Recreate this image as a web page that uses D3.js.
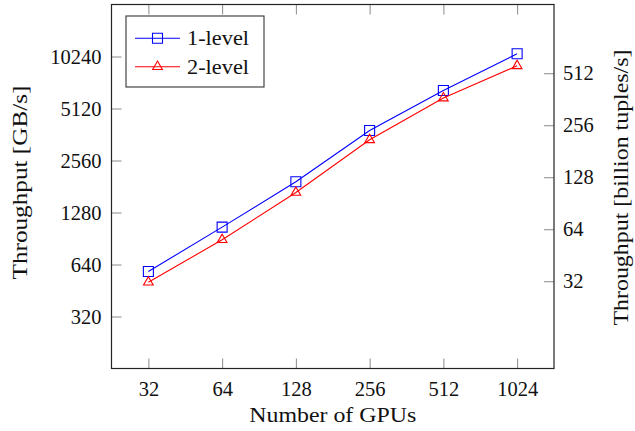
<!DOCTYPE html>
<html>
<head>
<meta charset="utf-8">
<script src="https://cdn.jsdelivr.net/npm/d3@7"></script>
<style>
  body { margin: 0; background: #fff; }
  text { font-family: 'Liberation Serif', 'DejaVu Serif', serif; fill: #111; }
</style>
</head>
<body>
<div id="chart"></div>
<script>
// GPUs on the x axis, throughput in GB/s on the left axis
const gpus = [32, 64, 128, 256, 512, 1024]
const oneLevel = [583, 1053, 1928, 3818, 6509, 10613]
const twoLevel = [505, 890, 1671, 3373, 5881, 9046]
const leftTicks = [320, 640, 1280, 2560, 5120, 10240]
const rightTicks = [32, 64, 128, 256, 512]
const bytesPerTuple = 16

const width = 635
const height = 431
const plot = { left: 111.5, right: 554, top: 4.5, bottom: 368.5 }
const tickLen = 10
const fontSize = 20.5

const svg = d3.select('#chart')
  .append('svg')
  .attr('width', width)
  .attr('height', height)

const x = d3.scaleLog().base(2)
  .domain([32 / Math.SQRT2, 1024 * Math.SQRT2])
  .range([plot.left, plot.right])

const y = d3.scaleLog().base(2)
  .domain([160, 20480])
  .range([plot.bottom, plot.top])

// right axis is the same scale expressed in billion tuples/s
const y2 = d3.scaleLog().base(2)
  .domain(y.domain().map(v => v / bytesPerTuple))
  .range([plot.bottom, plot.top])

const styleAxis = g => {
  g.select('.domain').remove()
  g.selectAll('.tick line').attr('stroke', '#8a8a8a').attr('stroke-width', 1)
  g.selectAll('.tick text').attr('font-size', fontSize).attr('fill', '#111')
}

// bottom and top x ticks, pointing inward
svg.append('g')
  .attr('transform', `translate(0, ${plot.bottom})`)
  .call(d3.axisBottom(x).tickValues(gpus).tickFormat(d3.format('d')).tickSize(-tickLen).tickPadding(8))
  .call(styleAxis)
  .selectAll('.tick text').attr('dy', '0.95em')

svg.append('g')
  .attr('transform', `translate(0, ${plot.top})`)
  .call(d3.axisTop(x).tickValues(gpus).tickFormat('').tickSize(-tickLen))
  .call(styleAxis)

svg.append('g')
  .attr('transform', `translate(${plot.left}, 0)`)
  .call(d3.axisLeft(y).tickValues(leftTicks).tickFormat(d3.format('d')).tickSize(-tickLen).tickPadding(10))
  .call(styleAxis)

svg.append('g')
  .attr('transform', `translate(${plot.right}, 0)`)
  .call(d3.axisRight(y2).tickValues(rightTicks).tickFormat(d3.format('d')).tickSize(-tickLen).tickPadding(9))
  .call(styleAxis)

// frame
svg.append('rect')
  .attr('x', plot.left)
  .attr('y', plot.top)
  .attr('width', plot.right - plot.left)
  .attr('height', plot.bottom - plot.top)
  .attr('fill', 'none')
  .attr('stroke', '#222')
  .attr('stroke-width', 1.2)

// axis titles, stretched to the width of the original serif face
svg.append('text')
  .attr('x', (plot.left + plot.right) / 2)
  .attr('y', 422)
  .attr('text-anchor', 'middle')
  .attr('font-size', fontSize)
  .attr('textLength', 167)
  .attr('lengthAdjust', 'spacingAndGlyphs')
  .text('Number of GPUs')

svg.append('text')
  .attr('transform', `translate(27, ${(plot.top + plot.bottom) / 2 - 4}) rotate(-90)`)
  .attr('text-anchor', 'middle')
  .attr('font-size', fontSize)
  .attr('textLength', 194)
  .attr('lengthAdjust', 'spacingAndGlyphs')
  .text('Throughput [GB/s]')

svg.append('text')
  .attr('transform', `translate(628, ${(plot.top + plot.bottom) / 2 + 1}) rotate(-90)`)
  .attr('text-anchor', 'middle')
  .attr('font-size', fontSize)
  .attr('textLength', 276)
  .attr('lengthAdjust', 'spacingAndGlyphs')
  .text('Throughput [billion tuples/s]')

const series = [
  { name: '1-level', values: oneLevel, color: '#0000ff', marker: 'square' },
  { name: '2-level', values: twoLevel, color: '#ff0000', marker: 'triangle' }
]

const markerPath = (type, cx, cy) => {
  if (type === 'square') {
    const h = 5
    return `M${cx - h},${cy - h}h${2 * h}v${2 * h}h${-2 * h}Z`
  }
  const r = 5.6
  return `M${cx},${cy - r}L${cx + r * 0.866},${cy + r * 0.5}L${cx - r * 0.866},${cy + r * 0.5}Z`
}

const line = d3.line()
  .x((d, i) => x(gpus[i]))
  .y(d => y(d))

for (const s of series) {
  svg.append('path')
    .datum(s.values)
    .attr('d', line)
    .attr('fill', 'none')
    .attr('stroke', s.color)
    .attr('stroke-width', 1.1)

  svg.append('g')
    .selectAll('path')
    .data(s.values)
    .join('path')
    .attr('d', (d, i) => markerPath(s.marker, x(gpus[i]), y(d)))
    .attr('fill', 'none')
    .attr('stroke', s.color)
    .attr('stroke-width', 1.1)
}

// legend
const legend = svg.append('g').attr('transform', 'translate(126, 16)')
legend.append('rect')
  .attr('width', 138)
  .attr('height', 71)
  .attr('fill', '#fff')
  .attr('stroke', '#333')
  .attr('stroke-width', 1.1)

series.forEach((s, i) => {
  const ly = 22.3 + i * 28.4
  legend.append('line')
    .attr('x1', 9).attr('x2', 54)
    .attr('y1', ly).attr('y2', ly)
    .attr('stroke', s.color)
    .attr('stroke-width', 1.1)
  legend.append('path')
    .attr('d', markerPath(s.marker, 31.5, ly))
    .attr('fill', 'none')
    .attr('stroke', s.color)
    .attr('stroke-width', 1.1)
  legend.append('text')
    .attr('x', 61)
    .attr('y', ly)
    .attr('dy', '0.35em')
    .attr('font-size', fontSize)
    .attr('textLength', 62)
    .attr('lengthAdjust', 'spacingAndGlyphs')
    .text(s.name)
})
</script>
</body>
</html>
